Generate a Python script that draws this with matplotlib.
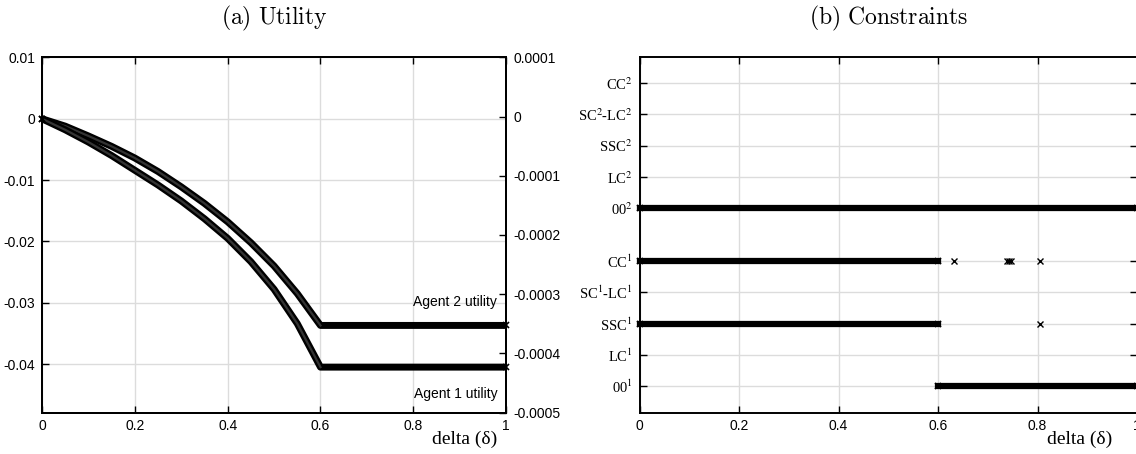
import matplotlib
matplotlib.use("Agg")
import matplotlib.pyplot as plt

plt.rcParams['axes.unicode_minus'] = False
plt.rcParams['mathtext.fontset'] = 'stix'

# (a) utility curves
delta = [0, 0.05, 0.1, 0.15, 0.2, 0.25, 0.3, 0.35, 0.4, 0.45, 0.5, 0.55, 0.6, 1.0]
agent2_utility = [0, -0.0012, -0.0028, -0.0045, -0.0064, -0.0086, -0.0111, -0.0138,
                  -0.0168, -0.0202, -0.0240, -0.0285, -0.0337, -0.0337]
agent1_utility = [0, -0.0018, -0.0038, -0.0060, -0.0084, -0.0108, -0.0134, -0.0163,
                  -0.0195, -0.0233, -0.0278, -0.0334, -0.0405, -0.0405]

left_ticks = [0.01, 0, -0.01, -0.02, -0.03, -0.04]
left_ticklabels = ['0.01', '0', '-0.01', '-0.02', '-0.03', '-0.04']
right_ticks = [0.0001, 0, -0.0001, -0.0002, -0.0003, -0.0004, -0.0005]
right_ticklabels = ['0.0001', '0', '-0.0001', '-0.0002', '-0.0003', '-0.0004', '-0.0005']
x_ticks = [0, 0.2, 0.4, 0.6, 0.8, 1.0]
x_ticklabels = ['0', '0.2', '0.4', '0.6', '0.8', '1']

# (b) active constraints
constraint_labels = ['00$^1$', 'LC$^1$', 'SSC$^1$', 'SC$^1$-LC$^1$', 'CC$^1$',
                     '00$^2$', 'LC$^2$', 'SSC$^2$', 'SC$^2$-LC$^2$', 'CC$^2$']
constraint_pos = [0, 1, 2, 3, 4, 5.7, 6.7, 7.7, 8.7, 9.7]
oo2_range = [0.0, 1.0]
cc1_range = [0.0, 0.6]
cc1_points = [0.631, 0.738, 0.743, 0.747, 0.805]
ssc1_range = [0.0, 0.6]
ssc1_points = [0.805]
oo1_range = [0.6, 1.0]

sans = 'Liberation Sans'
serif = 'Liberation Serif'
grid_col = '#dcdcdc'

fig = plt.figure(figsize=(11.36, 4.54), dpi=100)
ax1 = fig.add_axes([0.037, 0.0914, 0.4085, 0.782])
ax2 = fig.add_axes([0.563, 0.0914, 0.438, 0.782])

## Utility panel
for y in (agent2_utility, agent1_utility):
    ax1.plot(delta, y, color='black', lw=5, solid_joinstyle='round', zorder=3)
    # lighter core on the curved part, like the overlapping markers
    ax1.plot(delta[:-1], y[:-1], color='#333333', lw=1.6, solid_joinstyle='round', zorder=3)
    ax1.plot([delta[0], delta[-1]], [y[0], y[-1]], 'x', color='black', ms=5, mew=1.2,
             zorder=4, clip_on=False)

ax1.set_xlim(0, 1)
ax1.set_ylim(-0.0479, 0.01)
ax1.set_xticks(x_ticks)
ax1.set_xticklabels(x_ticklabels, fontfamily=sans, fontsize=10)
ax1.set_yticks(left_ticks)
ax1.set_yticklabels(left_ticklabels, fontfamily=sans, fontsize=10)
ax1.tick_params(direction='in', length=5, width=1, top=True, pad=5)
ax1.grid(True, color=grid_col, lw=1)
ax1.set_axisbelow(True)

ax1r = ax1.twinx()
ax1r.set_ylim(-0.0005, 0.0001)
ax1r.set_yticks(right_ticks)
ax1r.set_yticklabels(right_ticklabels, fontfamily=sans, fontsize=10)
ax1r.tick_params(direction='in', length=5, width=1, pad=5)

ax1.text(0.981, 0.310, 'Agent 2 utility', transform=ax1.transAxes, ha='right',
         va='center', fontfamily=sans, fontsize=10)
ax1.text(0.981, 0.052, 'Agent 1 utility', transform=ax1.transAxes, ha='right',
         va='center', fontfamily=sans, fontsize=10)
ax1.text(0.981, -0.077, 'delta (δ)', transform=ax1.transAxes, ha='right',
         va='center', fontfamily=serif, fontsize=14)
ax1.set_title(r'$\mathrm{(a)\ Utility}$', math_fontfamily='cm', fontsize=17, pad=24)

## Constraints panel
thick = dict(color='black', lw=4.5, marker='x', ms=5, mew=1.2, zorder=3, clip_on=False)
ax2.plot(oo2_range, [constraint_pos[5]] * 2, **thick)
ax2.plot(cc1_range, [constraint_pos[4]] * 2, **thick)
ax2.plot(ssc1_range, [constraint_pos[2]] * 2, **thick)
ax2.plot(oo1_range, [constraint_pos[0]] * 2, **thick)
ax2.plot(cc1_points, [constraint_pos[4]] * len(cc1_points), 'x', color='black', ms=5, mew=1)
ax2.plot(ssc1_points, [constraint_pos[2]] * len(ssc1_points), 'x', color='black', ms=5, mew=1)

ax2.set_xlim(0, 1)
ax2.set_ylim(-0.85, 10.52)
ax2.set_xticks(x_ticks)
ax2.set_xticklabels(x_ticklabels, fontfamily=sans, fontsize=10)
ax2.set_yticks(constraint_pos)
ax2.set_yticklabels(constraint_labels, fontfamily=serif, fontsize=10.5)
ax2.tick_params(direction='in', length=5, width=1, top=True, right=True, pad=5)
ax2.grid(True, color=grid_col, lw=1)
ax2.set_axisbelow(True)
ax2.text(0.950, -0.077, 'delta (δ)', transform=ax2.transAxes, ha='right',
         va='center', fontfamily=serif, fontsize=14)
ax2.set_title(r'$\mathrm{(b)\ Constraints}$', math_fontfamily='cm', fontsize=17, pad=24)

for ax in (ax1, ax1r, ax2):
    for s in ax.spines.values():
        s.set_linewidth(1.4)

fig.savefig('out.png', dpi=100)
